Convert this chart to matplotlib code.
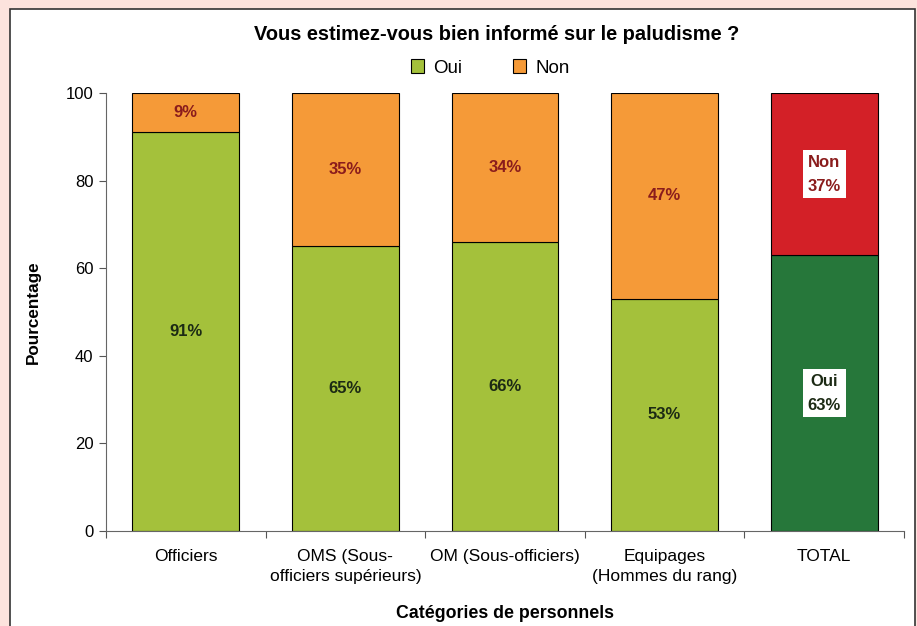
import matplotlib
matplotlib.use("Agg")
import matplotlib.pyplot as plt
from matplotlib.patches import Rectangle, Patch

plt.rcParams["font.family"] = ["Liberation Sans", "DejaVu Sans"]

# Data
categories = ["Officiers", "OMS (Sous-\nofficiers supérieurs)", "OM (Sous-officiers)",
              "Equipages\n(Hommes du rang)", "TOTAL"]
oui = [91, 65, 66, 53, 63]
non = [9, 35, 34, 47, 37]

green = "#a4c13b"
orange = "#f59a38"
dark_green = "#26773a"
red = "#d32027"
oui_colors = [green] * 4 + [dark_green]
non_colors = [orange] * 4 + [red]

fig = plt.figure(figsize=(9.17, 6.26), dpi=100)
fig.patch.set_facecolor("#fce3dd")

# white panel with dark border, behind everything
panel = Rectangle((10 / 917, -0.02), 905 / 917, 1 - 9 / 626 + 0.02, transform=fig.transFigure,
                  facecolor="white", edgecolor="#333333", linewidth=1.2, zorder=-10)
fig.patches.append(panel)

ax = fig.add_axes([106 / 917, 95 / 626, 798 / 917, 438 / 626])
ax.set_facecolor("none")

x = range(len(categories))
ax.bar(x, oui, width=0.67, color=oui_colors, edgecolor="black", linewidth=0.8)
ax.bar(x, non, width=0.67, bottom=oui, color=non_colors, edgecolor="black", linewidth=0.8)

for i in x:
    if i < 4:
        ax.text(i, oui[i] / 2, f"{oui[i]}%", ha="center", va="center",
                fontsize=12, fontweight="bold", color="#1c2a14")
        ax.text(i, oui[i] + non[i] / 2, f"{non[i]}%", ha="center", va="center",
                fontsize=12, fontweight="bold", color="#8a1c1c")
    else:
        box = dict(facecolor="white", edgecolor="none", pad=3.5)
        ax.text(i, oui[i] / 2, f"Oui\n{oui[i]}%", ha="center", va="center",
                fontsize=12, fontweight="bold", color="#1c2a14", linespacing=1.75, bbox=box)
        ax.text(i, oui[i] + non[i] / 2, f"Non\n{non[i]}%", ha="center", va="center",
                fontsize=12, fontweight="bold", color="#8a1c1c", linespacing=1.75, bbox=box)

ax.set_xlim(-0.5, len(categories) - 0.5)
ax.set_ylim(0, 100)
ax.set_yticks([0, 20, 40, 60, 80, 100])
ax.set_xticks([i - 0.5 for i in range(len(categories) + 1)])
ax.set_xticklabels([])
ax.set_xticks(list(x), minor=True)
ax.set_xticklabels(categories, minor=True, fontsize=12.5, linespacing=1.4)
ax.tick_params(axis="x", which="minor", length=0, pad=13)
ax.tick_params(axis="x", which="major", length=5, color="#555555")
ax.tick_params(axis="y", length=5, labelsize=12, color="#555555", pad=4)

for side in ["top", "right"]:
    ax.spines[side].set_visible(False)
for side in ["left", "bottom"]:
    ax.spines[side].set_color("#666666")

ax.set_ylabel("Pourcentage", fontsize=12.3, fontweight="bold", labelpad=18)
ax.set_xlabel("Catégories de personnels", fontsize=12.8, fontweight="bold", labelpad=15)

fig.text(497 / 917, 1 - 35 / 626, "Vous estimez-vous bien informé sur le paludisme ?",
         ha="center", va="center", fontsize=14.4, fontweight="bold")

handles = [Patch(facecolor=green, edgecolor="black", linewidth=0.8),
           Patch(facecolor=orange, edgecolor="black", linewidth=0.8)]
fig.legend(handles, ["Oui", "Non"], loc="center", bbox_to_anchor=(490 / 917, 1 - 68 / 626),
           ncol=2, frameon=False, fontsize=13.5, handlelength=0.7, handleheight=0.7,
           handletextpad=0.5, columnspacing=2.7)

fig.savefig("out.png", dpi=100, facecolor=fig.get_facecolor())
